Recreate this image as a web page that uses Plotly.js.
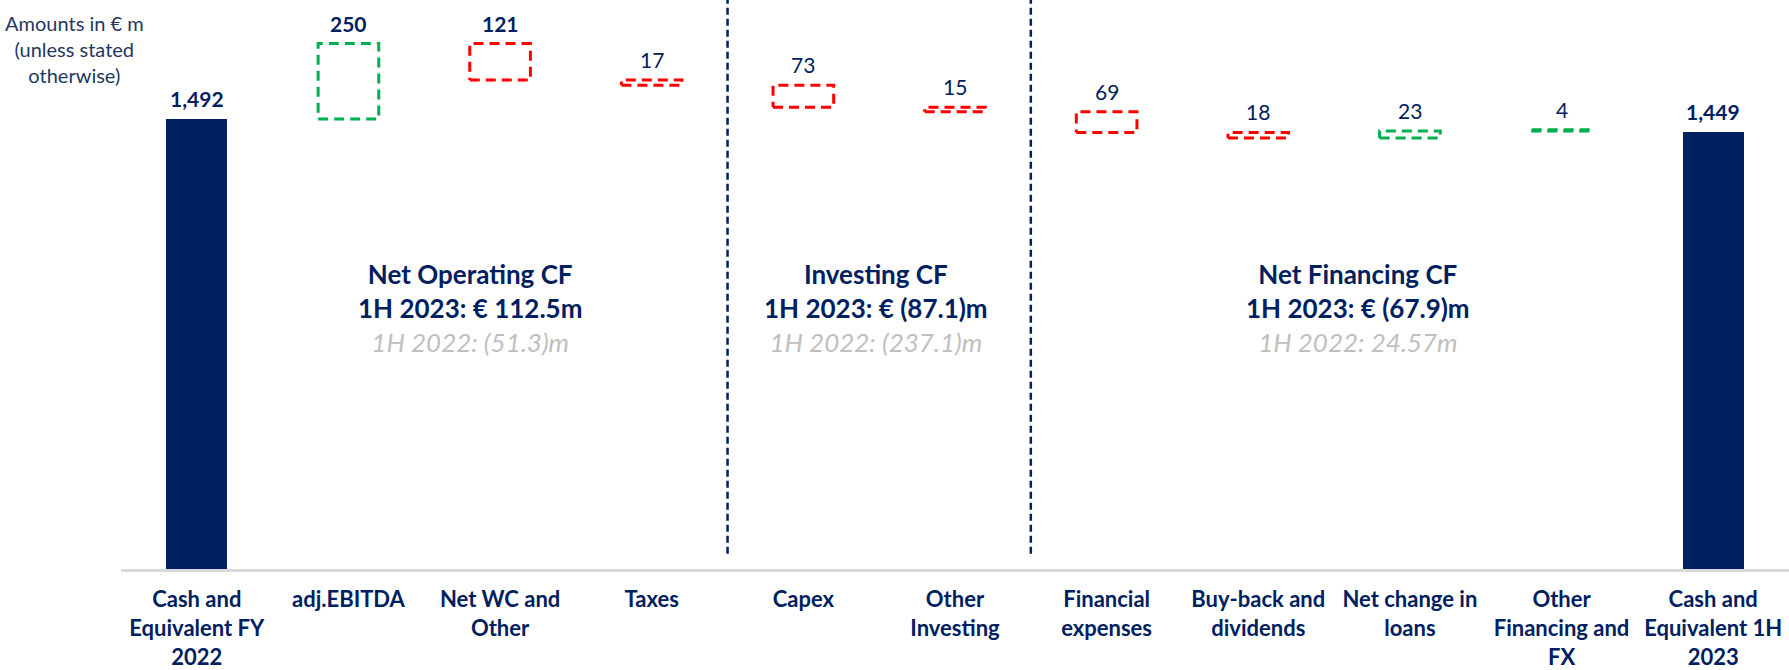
<!DOCTYPE html>
<html>
<head>
<meta charset="utf-8">
<script src="https://cdn.plot.ly/plotly-3.0.1.min.js"></script>
<style>html,body{margin:0;padding:0;background:#fff;}#chart{width:1789px;height:670px;}</style>
</head>
<body>
<div id="chart"></div>
<script>
// ---- data ----
const categories = ["Cash and<br>Equivalent FY<br>2022", "adj.EBITDA", "Net WC and<br>Other", "Taxes", "Capex",
  "Other<br>Investing", "Financial<br>expenses", "Buy-back and<br>dividends", "Net change in<br>loans",
  "Other<br>Financing and<br>FX", "Cash and<br>Equivalent 1H<br>2023"];
const measures = ["absolute", "relative", "relative", "relative", "relative", "relative", "relative", "relative", "relative", "relative", "absolute"];
const values = [1492, 250, -121, -17, -73, -15, -69, -18, 23, 4, 1449];
const valueLabels = ["1,492", "250", "121", "17", "73", "15", "69", "18", "23", "4", "1,449"];
const sectionTitles = ["Net Operating CF", "Investing CF", "Net Financing CF"];
const section2023 = ["1H 2023: € 112.5m", "1H 2023: € (87.1)m", "1H 2023: € (67.9)m"];
const section2022 = ["1H 2022: (51.3)m", "1H 2022: (237.1)m", "1H 2022: 24.57m"];
const sectionDividers = [3.5, 5.5];

// ---- styles ----
const NAVY = "#002060", GREEN = "#00B050", RED = "#FF0000", GREY = "#BFBFBF";
const FONT = "Lato, 'Open Sans', sans-serif";
const HALF = 0.2;

// compute waterfall geometry from the data
const idx = categories.map((_, i) => i);
let running = 0;
const boxes = [];
const tops = [];
values.forEach((v, i) => {
  if (measures[i] === "absolute") { running = v; tops.push(v); }
  else {
    const a = running, b = running + v;
    boxes.push({i, lo: Math.min(a, b), hi: Math.max(a, b), up: v > 0});
    tops.push(Math.max(a, b));
    running = b;
  }
});

function boxTrace(up, color) {
  const xs = [], ys = [];
  boxes.filter(b => b.up === up).forEach(b => {
    xs.push(b.i - HALF, b.i + HALF, b.i + HALF, b.i - HALF, b.i - HALF, null);
    ys.push(b.lo, b.lo, b.hi, b.hi, b.lo, null);
  });
  return {type: "scatter", mode: "lines", x: xs, y: ys, hoverinfo: "skip", showlegend: false,
    line: {color: color, width: 3, dash: "10px,6px"}};
}

const totalX = idx.filter(i => measures[i] === "absolute");
const traces = [
  {type: "bar", x: totalX, y: totalX.map(i => values[i]), width: 2 * HALF,
   marker: {color: NAVY}, hoverinfo: "skip", showlegend: false},
  boxTrace(true, GREEN),
  boxTrace(false, RED)
];

const annotations = idx.map(i => ({
  x: i, y: tops[i], xref: "x", yref: "y", yanchor: "bottom", yshift: 6, showarrow: false,
  text: Math.abs(values[i]) >= 100 ? "<b>" + valueLabels[i] + "</b>" : valueLabels[i],
  font: {family: FONT, size: 21, color: NAVY}
}));

const sectionX = [1.8, 4.48, 7.66];
sectionTitles.forEach((t, k) => {
  annotations.push({
    x: sectionX[k], y: 865, xref: "x", yref: "y", xanchor: "center", yanchor: "middle", showarrow: false,
    text: "<b>" + t + "</b><br><b>" + section2023[k] + "</b><br><i><span style='color:" + GREY + "'>" + section2022[k] + "</span></i>",
    font: {family: FONT, size: 26, color: NAVY}
  });
});

annotations.push({
  x: -0.0276, y: 0.958, xref: "paper", yref: "paper", xanchor: "center", yanchor: "middle", showarrow: false,
  text: "Amounts in € m<br>(unless stated<br>otherwise)",
  font: {family: FONT, size: 20, color: "#1F3864"}
});

const shapes = sectionDividers.map(x => ({
  type: "line", xref: "x", yref: "paper", x0: x, x1: x, y0: 0.028, y1: 1.048,
  line: {color: NAVY, width: 2.5, dash: "7px,4px"}
}));

const layout = {
  width: 1789, height: 670,
  margin: {l: 121, r: 0, t: 26, b: 101},
  paper_bgcolor: "#fff", plot_bgcolor: "#fff",
  xaxis: {range: [-0.5, 10.5], tickvals: idx, ticktext: categories.map(c => "<b>" + c.split("<br>").join("</b><br><b>") + "</b>"),
    showline: true, linecolor: "#D9D9D9", linewidth: 3, ticks: "", showgrid: false, zeroline: false,
    ticklabelstandoff: 9,
    tickfont: {family: FONT, size: 22, color: NAVY}, fixedrange: true},
  yaxis: {range: [0, 1800], visible: false, showgrid: false, zeroline: false, fixedrange: true},
  annotations: annotations,
  shapes: shapes,
  bargap: 0,
  font: {family: FONT}
};

Plotly.newPlot("chart", traces, layout, {displayModeBar: false, staticPlot: true});
</script>
</body>
</html>
